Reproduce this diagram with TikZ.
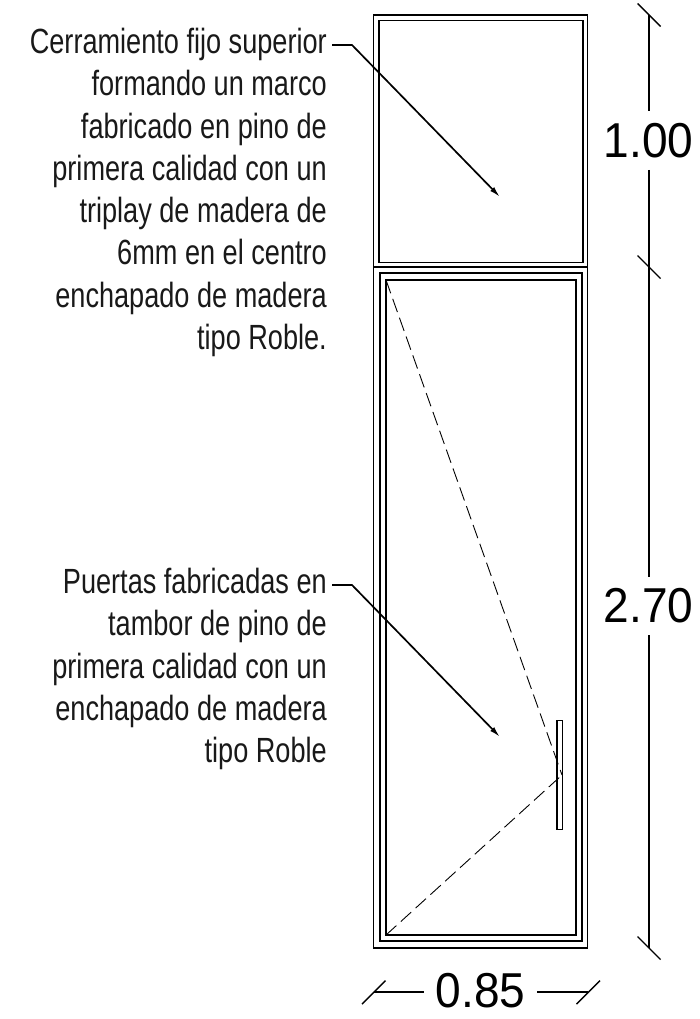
\documentclass[tikz,border=0pt]{standalone}
\usepackage{fontspec}
\setmainfont{Liberation Sans}
\newfontfamily\narrowfont[FakeStretch=0.775]{Liberation Sans}
\newfontfamily\dimfont[FakeStretch=0.94]{Liberation Sans}
\usetikzlibrary{arrows.meta}
\tikzset{
 x=1pt,y=-1pt,
 frame/.style={draw=black,line width=1.4pt},
 dim/.style={draw=black,line width=1.4pt},
 leader/.style={draw=black,line width=1.7pt,-{Latex[length=11pt,width=5.5pt]}},
 dashline/.style={draw=black,line width=.9pt,dash pattern=on 14pt off 6pt},
 note/.style={font=\narrowfont\fontsize{35}{42.25}\selectfont,align=right,anchor=north east,inner sep=0pt,text=black!90},
 dimtext/.style={font=\dimfont\fontsize{49}{49}\selectfont,inner sep=0pt,text=black,anchor=base},
}
\begin{document}
\begin{tikzpicture}
\useasboundingbox (0,0) rectangle (699,1019);
\fill[white] (0,0) rectangle (699,1019);
% frames
\draw[frame] (373.5,15) rectangle (587.5,267);
\draw[frame] (379,20.5) rectangle (583,262.5);
\draw[frame] (373.5,267) rectangle (587.5,948);
\draw[frame] (380,273) rectangle (582,941);
\draw[frame] (386,280) rectangle (576,935);
\node[draw=black,line width=1.2pt,minimum width=5.7pt,minimum height=109pt,inner sep=0pt] (handle) at (559.8,775) {};
% door swing
\coordinate (hingeT) at (386,280);
\coordinate (latch) at (562,775);
\coordinate (hingeB) at (386,935);
\draw[dashline] (hingeT) -- (latch);
\draw[dashline] (hingeB) -- (latch);
% notes
\node[note] (n1) at (327,28) {Cerramiento fijo superior\\formando un marco\\fabricado en pino de\\primera calidad con un\\triplay de madera de\\6mm en el centro\\enchapado de madera\\tipo Roble.};
\node[note] (n2) at (327,568) {Puertas fabricadas en\\tambor de pino de\\primera calidad con un\\enchapado de madera\\tipo Roble};
\coordinate (a1) at (500,197);
\coordinate (a2) at (500,737);
\draw[leader] (332,45) -- (352,45) -- (a1);
\draw[leader] (332,585) -- (352,585) -- (a2);
% dimensions
\coordinate (d0) at (649,15);
\coordinate (d1) at (649,267);
\coordinate (d2) at (649,948);
\node[dimtext] (t1) at (648.5,157.5) {1.00};
\node[dimtext] (t2) at (648.5,622.5) {2.70};
\node[dimtext] (t3) at (480.5,1007.5) {0.85};
\draw[dim] (d0) -- (649,111) (649,170) -- (d1) -- (649,577) (649,635) -- (d2);
\draw[dim] (637.5,3.5) -- (660.5,26.5) (637.5,255.5) -- (660.5,278.5) (637.5,936.5) -- (660.5,959.5);
\coordinate (h0) at (373.5,992);
\coordinate (h1) at (587.5,992);
\draw[dim] (h0) -- (424,992) (537,992) -- (h1);
\draw[dim] (362,1004) -- (385.5,980.5) (576.5,1004) -- (600,980.5);
\end{tikzpicture}
\end{document}
